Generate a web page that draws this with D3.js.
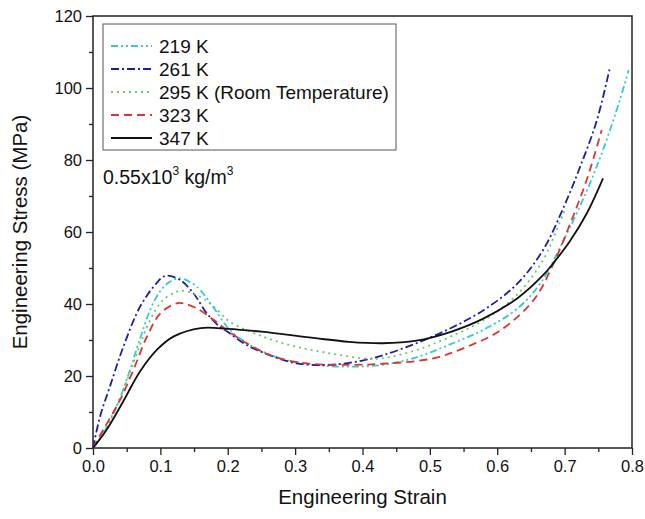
<!DOCTYPE html>
<html lang="en">
<head>
  <meta charset="UTF-8">
  <title>Engineering Stress vs Strain</title>
  <style>
    body { margin:0; background:#fff; overflow:hidden; }
    #chart { display:block; }
    text { font-family: "Liberation Sans", Arial, sans-serif; fill:#111; }
  </style>
</head>
<body>
  <svg id="chart" width="645" height="519"></svg>
  <script src="https://d3js.org/d3.v7.min.js"></script>
  <script>
    // series: [strain, stress MPa]
    const k219 = [[0,0],[0.015,4],[0.035,11.5],[0.055,21.7],[0.07,30.5],[0.09,40.5],[0.109,45.5],[0.129,47.1],[0.154,44.8],[0.179,39],[0.203,32.8],[0.238,28.1],[0.278,24.9],[0.327,23.1],[0.377,22.6],[0.43,23.1],[0.48,25.2],[0.53,28.8],[0.579,32.8],[0.629,38.6],[0.665,46],[0.698,57.5],[0.733,71.5],[0.757,82.8],[0.782,96.7],[0.795,105]];
    const k261 = [[0,0],[0.0104,8.7],[0.025,17],[0.045,28.1],[0.07,39.3],[0.094,45.7],[0.107,47.8],[0.129,46.7],[0.149,43],[0.169,37.4],[0.188,33.7],[0.198,32.5],[0.228,28.6],[0.268,25.4],[0.302,23.5],[0.352,23.1],[0.40,24.3],[0.431,25.8],[0.48,29.1],[0.53,33.2],[0.579,38.2],[0.629,45.5],[0.668,55],[0.7,67.5],[0.723,78.1],[0.748,91.1],[0.767,105.5]];
    const k295 = [[0,0],[0.025,7.8],[0.045,16.1],[0.065,26.3],[0.085,35.6],[0.104,41.1],[0.124,43.4],[0.134,43.7],[0.159,42],[0.179,39.3],[0.203,35.1],[0.253,30.9],[0.302,28.1],[0.352,26.3],[0.401,24.9],[0.43,24.9],[0.48,27.2],[0.53,30.9],[0.579,35.4],[0.629,42.5],[0.668,52.2],[0.686,59.6],[0.70,66]];
    const k323 = [[0,0],[0.015,5],[0.04,13.3],[0.06,21.7],[0.08,30.9],[0.1,37.4],[0.124,40.2],[0.134,40.2],[0.154,38.8],[0.179,35.6],[0.198,32.8],[0.228,29.1],[0.268,25.4],[0.317,23.5],[0.377,23.1],[0.43,23.4],[0.505,24.9],[0.555,28.1],[0.604,32.6],[0.654,41.1],[0.683,51],[0.708,62.2],[0.733,74.6],[0.755,88.3]];
    const k347 = [[0,0],[0.02,5],[0.045,13],[0.07,21.3],[0.095,27.3],[0.12,31],[0.16,33.3],[0.2,33.1],[0.25,32.3],[0.33,30.5],[0.38,29.5],[0.43,29.1],[0.48,29.8],[0.53,32.2],[0.58,36],[0.63,41.6],[0.668,48],[0.683,51.3],[0.708,57.5],[0.733,65.2],[0.757,74.9]];

    const labels = ['219 K', '261 K', '295 K (Room Temperature)', '323 K', '347 K'];
    const xTicks = [0, 0.1, 0.2, 0.3, 0.4, 0.5, 0.6, 0.7, 0.8];
    const yTicks = [0, 20, 40, 60, 80, 100, 120];

    const series = [
      {name: labels[0], data: k219, color: '#33cccc', dash: '7,3,2,3,2,3'},
      {name: labels[1], data: k261, color: '#1e1ea0', dash: '8,3,2,3'},
      {name: labels[2], data: k295, color: '#66cc66', dash: '2,4'},
      {name: labels[3], data: k323, color: '#dd3333', dash: '8,5'},
      {name: labels[4], data: k347, color: '#111111', dash: null}
    ];

    const svg = d3.select('#chart');
    const L = 93, R = 632, T = 16, B = 448;
    const x = d3.scaleLinear().domain([0, 0.8]).range([L, R]);
    const y = d3.scaleLinear().domain([0, 120]).range([B, T]);

    // axes
    svg.append('g').attr('transform', `translate(0,${B})`)
      .call(d3.axisBottom(x).tickValues(xTicks).tickFormat(d3.format('.1f')).tickSize(7).tickPadding(5));
    svg.append('g').attr('transform', `translate(0,${B})`)
      .call(d3.axisBottom(x).tickValues(d3.range(0.05, 0.8, 0.1)).tickFormat('').tickSize(4));
    svg.append('g').attr('transform', `translate(${L},0)`)
      .call(d3.axisLeft(y).tickValues(yTicks).tickSize(7).tickPadding(4));
    svg.append('g').attr('transform', `translate(${L},0)`)
      .call(d3.axisLeft(y).tickValues(d3.range(10, 120, 20)).tickFormat('').tickSize(4));
    svg.selectAll('.domain').remove();
    svg.selectAll('.tick line').attr('stroke', '#222').attr('stroke-width', 1.3);
    svg.selectAll('.tick text').style('font-size', '16.5px').style('font-family', '"Liberation Sans", Arial, sans-serif').attr('fill', '#111');

    // frame
    svg.append('rect').attr('x', L).attr('y', T).attr('width', R - L).attr('height', B - T)
      .attr('fill', 'none').attr('stroke', '#222').attr('stroke-width', 1.5);

    // curves
    const line = d3.line().x(d => x(d[0])).y(d => y(d[1])).curve(d3.curveCatmullRom.alpha(0.5));
    svg.append('g').selectAll('path').data(series).join('path')
      .attr('d', d => line(d.data))
      .attr('fill', 'none')
      .attr('stroke', d => d.color)
      .attr('stroke-width', 1.8)
      .attr('stroke-dasharray', d => d.dash);

    // legend
    const lg = svg.append('g');
    lg.append('rect').attr('x', 103).attr('y', 24).attr('width', 293).attr('height', 126)
      .attr('fill', '#fff').attr('stroke', '#555').attr('stroke-width', 1);
    series.forEach((s, i) => {
      const yy = 46 + i * 23;
      lg.append('line').attr('x1', 111).attr('x2', 152).attr('y1', yy).attr('y2', yy)
        .attr('stroke', s.color).attr('stroke-width', 1.8).attr('stroke-dasharray', s.dash);
      lg.append('text').attr('x', 159).attr('y', yy).attr('dy', '0.35em')
        .style('font-size', '19px').text(s.name);
    });

    // density note
    const note = svg.append('text').attr('x', 103).attr('y', 184).style('font-size', '19.5px');
    note.append('tspan').text('0.55x10');
    note.append('tspan').attr('dy', -9).style('font-size', '12px').text('3');
    note.append('tspan').attr('dy', 9).text(' kg/m');
    note.append('tspan').attr('dy', -9).style('font-size', '12px').text('3');

    // axis titles
    svg.append('text').attr('x', (L + R) / 2).attr('y', 504).attr('text-anchor', 'middle')
      .style('font-size', '20.5px').text('Engineering Strain');
    svg.append('text').attr('transform', `translate(27,${(T + B) / 2}) rotate(-90)`)
      .attr('text-anchor', 'middle').style('font-size', '20.5px').text('Engineering Stress (MPa)');
  </script>
</body>
</html>
